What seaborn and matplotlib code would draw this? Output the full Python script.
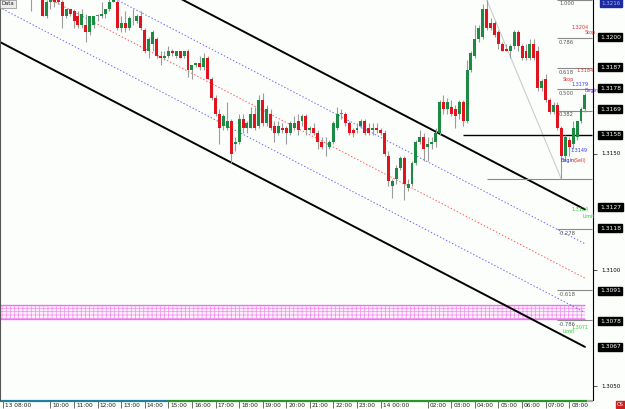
import numpy as np
import pandas as pd
import matplotlib
matplotlib.use("Agg")
import matplotlib.pyplot as plt
import matplotlib.transforms as mtransforms
from matplotlib.patches import Rectangle
import seaborn as sns

# 10 minute bars, bar 0 = 13 08:00 (first visible candles start at bar 7)
FIRST_BAR = 7
opens = [1.3217, 1.3218, 1.3219, 1.3217, 1.3209, 1.3215, 1.3216, 1.3216, 1.3215, 1.3209,
         1.3212, 1.3211, 1.3209, 1.3205, 1.3205, 1.3202, 1.3205, 1.3209, 1.3209, 1.3210,
         1.3212, 1.3215, 1.3215, 1.3204, 1.3206, 1.3204, 1.3208, 1.3207, 1.3209, 1.3203,
         1.3194, 1.3197, 1.3199, 1.3192, 1.3191, 1.3192, 1.3194, 1.3192, 1.3194, 1.3192,
         1.3194, 1.3186, 1.3188, 1.3189, 1.3187, 1.3191, 1.3182, 1.3174, 1.3167, 1.3162,
         1.3161, 1.3164, 1.3154, 1.3155, 1.3165, 1.3161, 1.3161, 1.3167, 1.3162, 1.3173,
         1.3163, 1.3167, 1.3162, 1.3159, 1.3161, 1.3161, 1.3159, 1.3161, 1.3164, 1.3164,
         1.3166, 1.3160, 1.3161, 1.3159, 1.3155, 1.3154, 1.3153, 1.3155, 1.3161, 1.3167,
         1.3167, 1.3163, 1.3160, 1.3160, 1.3162, 1.3164, 1.3161, 1.3160, 1.3161, 1.3160,
         1.3159, 1.3149, 1.3136, 1.3139, 1.3144, 1.3148, 1.3135, 1.3137, 1.3146, 1.3155,
         1.3157, 1.3153, 1.3154, 1.3155, 1.3159, 1.3172, 1.3169, 1.3170, 1.3169, 1.3167,
         1.3172, 1.3164, 1.3186, 1.3192, 1.3199, 1.3200, 1.3212, 1.3206, 1.3206, 1.3202,
         1.3197, 1.3195, 1.3194, 1.3196, 1.3202, 1.3196, 1.3194, 1.3191, 1.3197, 1.3194,
         1.3178, 1.3182, 1.3173, 1.3168, 1.3171, 1.3161, 1.3149, 1.3156, 1.3154, 1.3157,
         1.3164, 1.3169]
highs = [1.3220, 1.3221, 1.3222, 1.3218, 1.3216, 1.3217, 1.3218, 1.3217, 1.3216, 1.3212,
         1.3212, 1.3212, 1.3211, 1.3212, 1.3210, 1.3209, 1.3209, 1.3210, 1.3215, 1.3212,
         1.3217, 1.3218, 1.3216, 1.3209, 1.3211, 1.3209, 1.3212, 1.3210, 1.3211, 1.3204,
         1.3200, 1.3203, 1.3200, 1.3194, 1.3194, 1.3196, 1.3195, 1.3194, 1.3194, 1.3194,
         1.3195, 1.3188, 1.3189, 1.3192, 1.3193, 1.3192, 1.3183, 1.3175, 1.3169, 1.3167,
         1.3172, 1.3165, 1.3157, 1.3167, 1.3167, 1.3164, 1.3170, 1.3170, 1.3175, 1.3176,
         1.3171, 1.3169, 1.3164, 1.3164, 1.3163, 1.3162, 1.3164, 1.3166, 1.3167, 1.3167,
         1.3167, 1.3162, 1.3163, 1.3160, 1.3157, 1.3157, 1.3156, 1.3164, 1.3170, 1.3169,
         1.3168, 1.3164, 1.3161, 1.3163, 1.3165, 1.3165, 1.3163, 1.3163, 1.3163, 1.3161,
         1.3160, 1.3151, 1.3139, 1.3145, 1.3149, 1.3149, 1.3139, 1.3147, 1.3156, 1.3160,
         1.3159, 1.3157, 1.3157, 1.3161, 1.3173, 1.3175, 1.3174, 1.3173, 1.3171, 1.3173,
         1.3173, 1.3190, 1.3194, 1.3205, 1.3205, 1.3214, 1.3216, 1.3208, 1.3207, 1.3203,
         1.3198, 1.3197, 1.3197, 1.3203, 1.3203, 1.3197, 1.3197, 1.3199, 1.3199, 1.3196,
         1.3182, 1.3184, 1.3174, 1.3172, 1.3172, 1.3162, 1.3158, 1.3157, 1.3164, 1.3164,
         1.3170, 1.3176]
lows = [1.3211, 1.3217, 1.3217, 1.3209, 1.3208, 1.3212, 1.3213, 1.3214, 1.3204, 1.3208,
        1.3209, 1.3204, 1.3204, 1.3204, 1.3198, 1.3201, 1.3204, 1.3207, 1.3208, 1.3208,
        1.3211, 1.3215, 1.3203, 1.3202, 1.3202, 1.3203, 1.3205, 1.3206, 1.3203, 1.3193,
        1.3191, 1.3194, 1.3191, 1.3188, 1.3190, 1.3191, 1.3192, 1.3191, 1.3191, 1.3191,
        1.3183, 1.3182, 1.3187, 1.3186, 1.3186, 1.3182, 1.3173, 1.3166, 1.3154, 1.3160,
        1.3160, 1.3146, 1.3151, 1.3154, 1.3159, 1.3159, 1.3161, 1.3160, 1.3161, 1.3162,
        1.3162, 1.3160, 1.3155, 1.3158, 1.3159, 1.3154, 1.3158, 1.3160, 1.3158, 1.3162,
        1.3158, 1.3159, 1.3158, 1.3152, 1.3152, 1.3149, 1.3152, 1.3154, 1.3160, 1.3165,
        1.3162, 1.3158, 1.3157, 1.3159, 1.3161, 1.3158, 1.3158, 1.3158, 1.3159, 1.3158,
        1.3149, 1.3136, 1.3131, 1.3137, 1.3143, 1.3130, 1.3134, 1.3136, 1.3145, 1.3154,
        1.3147, 1.3147, 1.3152, 1.3153, 1.3158, 1.3167, 1.3167, 1.3166, 1.3161, 1.3165,
        1.3162, 1.3163, 1.3185, 1.3191, 1.3198, 1.3199, 1.3203, 1.3203, 1.3200, 1.3195,
        1.3194, 1.3194, 1.3191, 1.3195, 1.3194, 1.3190, 1.3190, 1.3190, 1.3190, 1.3177,
        1.3177, 1.3172, 1.3167, 1.3167, 1.3160, 1.3139, 1.3147, 1.3149, 1.3152, 1.3156,
        1.3163, 1.3168]
closes = [1.3218, 1.3219, 1.3218, 1.3209, 1.3215, 1.3216, 1.3215, 1.3215, 1.3209, 1.3212,
          1.3210, 1.3207, 1.3205, 1.3210, 1.3202, 1.3209, 1.3209, 1.3209, 1.3210, 1.3212,
          1.3215, 1.3216, 1.3204, 1.3206, 1.3204, 1.3208, 1.3208, 1.3209, 1.3204, 1.3194,
          1.3199, 1.3202, 1.3192, 1.3191, 1.3192, 1.3194, 1.3193, 1.3194, 1.3191, 1.3194,
          1.3186, 1.3188, 1.3189, 1.3187, 1.3191, 1.3182, 1.3174, 1.3167, 1.3161, 1.3166,
          1.3164, 1.3150, 1.3155, 1.3165, 1.3161, 1.3163, 1.3167, 1.3161, 1.3173, 1.3163,
          1.3169, 1.3161, 1.3159, 1.3162, 1.3160, 1.3159, 1.3163, 1.3163, 1.3160, 1.3166,
          1.3160, 1.3161, 1.3159, 1.3155, 1.3153, 1.3154, 1.3155, 1.3163, 1.3167, 1.3167,
          1.3163, 1.3159, 1.3159, 1.3161, 1.3164, 1.3159, 1.3159, 1.3161, 1.3160, 1.3159,
          1.3150, 1.3138, 1.3138, 1.3144, 1.3148, 1.3137, 1.3137, 1.3146, 1.3155, 1.3157,
          1.3152, 1.3154, 1.3155, 1.3159, 1.3172, 1.3169, 1.3172, 1.3167, 1.3166, 1.3172,
          1.3164, 1.3186, 1.3193, 1.3199, 1.3204, 1.3212, 1.3204, 1.3204, 1.3201, 1.3197,
          1.3194, 1.3194, 1.3196, 1.3202, 1.3196, 1.3191, 1.3191, 1.3197, 1.3191, 1.3178,
          1.3181, 1.3173, 1.3168, 1.3171, 1.3161, 1.3149, 1.3157, 1.3153, 1.3161, 1.3164,
          1.3169, 1.3175]

BARS_PER_HOUR = 6
tick_hours = [0, 2, 3, 4, 5, 6, 7, 8, 9, 10, 11, 12, 13, 14, 15, 16, 18, 19, 20, 21, 22, 23, 24]
tick_labels = ["13 08:00", "10:00", "11:00", "12:00", "13:00", "14:00", "15:00", "16:00",
               "17:00", "18:00", "19:00", "20:00", "21:00", "22:00", "23:00", "14 00:00",
               "02:00", "03:00", "04:00", "05:00", "06:00", "07:00", "08:00"]

# regression channel end points
channel_bars = [-1, 148]
channel_upper = [1.3257, 1.3126]
channel_lower = [1.3198, 1.3067]

# fibonacci swing
fib_bars = [123, 142]
fib_prices = [1.3216, 1.3139]
fib_levels = [1.0, 0.786, 0.618, 0.5, 0.382, 0.0, -0.278, -0.618, -0.786]
fib_names = ["1.000", "0.786", "0.618", "0.500", "0.382", "", "-0.278", "-0.618", "-0.786"]

support_price = 1.3158
zone_low, zone_high = 1.3079, 1.3085

boxed_prices = [1.3200, 1.3187, 1.3178, 1.3169, 1.3158, 1.3127, 1.3118, 1.3091, 1.3078, 1.3067]
plain_prices = [1.3150, 1.3100, 1.3050]

df = pd.DataFrame({"bar": np.arange(FIRST_BAR, FIRST_BAR + len(opens)),
                   "open": opens, "high": highs, "low": lows, "close": closes})

sns.set_style("white")
plt.rcParams['font.family'] = ['DejaVu Sans']
plt.rcParams['hatch.linewidth'] = 0.5

BG = '#fcfefc'
fig = plt.figure(figsize=(6.25, 4.09), dpi=100, facecolor=BG)
ax = fig.add_axes([0, 9 / 409, 593 / 625, 400 / 409])
ax.set_facecolor(BG)
ax.set_xlim(-0.84, 150.05)
ax.set_ylim(1.30442, 1.32159)

# pink zone
ax.add_patch(Rectangle((-1, zone_low), 149, zone_high - zone_low, facecolor='#fdf2fd',
                       edgecolor='#f38cf3', hatch='++++-', linewidth=0, zorder=1))
ax.hlines([zone_low, zone_high], -1, 148, color='#e77ae7', lw=1.0, zorder=1)

# channel
cb = np.array(channel_bars)
cu = np.array(channel_upper)
cl = np.array(channel_lower)
width = cu - cl
sns.lineplot(x=cb, y=cu, ax=ax, color='black', lw=1.4, zorder=2)
sns.lineplot(x=cb, y=cl, ax=ax, color='black', lw=1.4, zorder=2)
ax.plot(cb, (cu + cl) / 2, color='#ff5a5a', lw=0.7, ls=(0, (1.5, 2)), zorder=2)
ax.plot(cb, cu - width / 4, color='#6a6aff', lw=0.7, ls=(0, (1.5, 2)), zorder=2)
ax.plot(cb, cl + width / 4, color='#6a6aff', lw=0.7, ls=(0, (1.5, 2)), zorder=2)

# fibonacci
hi, lo = fib_prices
ax.plot(fib_bars, fib_prices, color='#cccccc', lw=0.8, zorder=2)
for lev, name in zip(fib_levels, fib_names):
    p = lo + lev * (hi - lo)
    x0 = fib_bars[0] if lev == 0 else 141.0
    ax.hlines(p, x0, 149.7, color='#8a8a8a', lw=0.8, zorder=2)
    if name:
        ax.annotate(name, (141.4, p), xytext=(0, -1.2), textcoords='offset points',
                    fontsize=3.8, color='#555555', va='top', ha='left', zorder=6)

ax.hlines(support_price, 117, 149.7, color='black', lw=1.0, zorder=2)

# candles
up = df.close >= df.open
body = (df.close - df.open).abs().clip(lower=0.00003)
colors = np.where(df.close == df.open, '#777777', np.where(up, '#1d8a44', '#e0141f'))
ax.vlines(df.bar, df.low, df.high, color='#9c9c9c', lw=0.8, zorder=3)
ax.bar(df.bar, body, bottom=df[['open', 'close']].min(axis=1), width=0.75,
       color=colors, linewidth=0, zorder=4)

# order labels
small = 3.5
ax.text(144.7, 1.3204, "1.3204", color='#e03030', fontsize=small, va='center', zorder=5)
ax.text(148.0, 1.3202, "Stop", color='#e03030', fontsize=small, va='center', zorder=5)
ax.text(145.9, 1.31855, "1.3184", color='#e03030', fontsize=small, va='center', zorder=5)
ax.text(142.2, 1.31818, "Stop", color='#e03030', fontsize=small, va='center', zorder=5)
ax.text(144.7, 1.31795, "1.3179", color='#3a3aff', fontsize=small, va='center', zorder=5)
ax.text(147.8, 1.31772, "Begin", color='#8a2be2', fontsize=small, va='center', zorder=5)
ax.text(144.2, 1.31512, "1.3149", color='#3a3aff', fontsize=small, va='center', zorder=5)
ax.text(141.7, 1.31472, "Begin", color='#2020c0', fontsize=small, va='center', zorder=5)
ax.text(145.0, 1.31472, "(Sell)", color='#e03030', fontsize=small, va='center', zorder=5)
ax.text(144.7, 1.31258, "1.3124", color='#33cc33', fontsize=small, va='center', zorder=5)
ax.text(147.5, 1.31230, "Limit", color='#33cc33', fontsize=small, va='center', zorder=5)
ax.text(144.7, 1.30753, "1.3071", color='#33cc33', fontsize=small, va='center', zorder=5)
ax.text(142.2, 1.30737, "Limit", color='#33cc33', fontsize=small, va='center', zorder=5)

# spines / axes
for s in ['top', 'bottom']:
    ax.spines[s].set_visible(False)
ax.spines['left'].set_color('#555555')
ax.spines['left'].set_linewidth(0.8)
ax.spines['right'].set_color('black')
ax.spines['right'].set_linewidth(0.8)

ax.yaxis.tick_right()
ax.set_yticks(plain_prices)
ax.set_yticklabels([])
ax.tick_params(axis='y', direction='out', length=3, width=0.6, color='#333333')

ytr = ax.get_yaxis_transform()
for p in boxed_prices:
    ax.annotate(f"{p:.4f}", xy=(1, p), xycoords=ytr, xytext=(5, 0), textcoords='offset points',
                fontsize=4.3, color='white', va='center', ha='left', annotation_clip=False,
                bbox=dict(boxstyle='square,pad=0.25', fc='black', ec='black'))
for p in plain_prices:
    ax.annotate(f"{p:.4f}", xy=(1, p), xycoords=ytr, xytext=(6, 0), textcoords='offset points',
                fontsize=4.0, color='black', va='center', ha='left', annotation_clip=False)
ax.annotate("1.3216", xy=(1, 1.32159), xycoords=ytr, xytext=(6, -0.5), textcoords='offset points',
            fontsize=4.0, color='#aab0ff', va='top', ha='left', annotation_clip=False,
            bbox=dict(boxstyle='square,pad=0.25', fc='#1c2aa0', ec='#1c2aa0'))

# time axis
tick_pos = [h * BARS_PER_HOUR for h in tick_hours]
ax.set_xticks(tick_pos)
ax.set_xticklabels(tick_labels)
ax.tick_params(axis='x', length=0, pad=2.2, labelsize=4.2, labelcolor='#222222')
shift = mtransforms.ScaledTranslation(2 / 100, 0, fig.dpi_scale_trans)
for lbl in ax.get_xticklabels():
    lbl.set_ha('left')
    lbl.set_transform(lbl.get_transform() + shift)
xtr = ax.get_xaxis_transform()
ax.vlines(tick_pos, -0.003, -0.02, transform=xtr, clip_on=False, color='#555555', lw=0.6)
ax.plot([-0.84, 42], [-0.003, -0.003], transform=xtr, clip_on=False, color='#1f7f9f',
        lw=1.6, solid_capstyle='butt')
ax.plot([42, 148.6], [-0.003, -0.003], transform=xtr, clip_on=False, color='#2a962a',
        lw=1.6, solid_capstyle='butt')
ax.plot([148.6, 150.05], [-0.003, -0.003], transform=xtr, clip_on=False, color='#aaaaaa',
        lw=1.6, solid_capstyle='butt')

ax.text(0.003, 0.997, "Data", transform=ax.transAxes, fontsize=3.8, va='top', ha='left',
        bbox=dict(boxstyle='square,pad=0.3', fc='#ececec', ec='#888888', lw=0.5), zorder=7)
fig.text(0.993, 0.004, "OS", fontsize=3.5, color='white', va='bottom', ha='center',
         bbox=dict(boxstyle='square,pad=0.2', fc='#cc2020', ec='#cc2020'))

fig.savefig('out.png', dpi=100, facecolor=BG)
